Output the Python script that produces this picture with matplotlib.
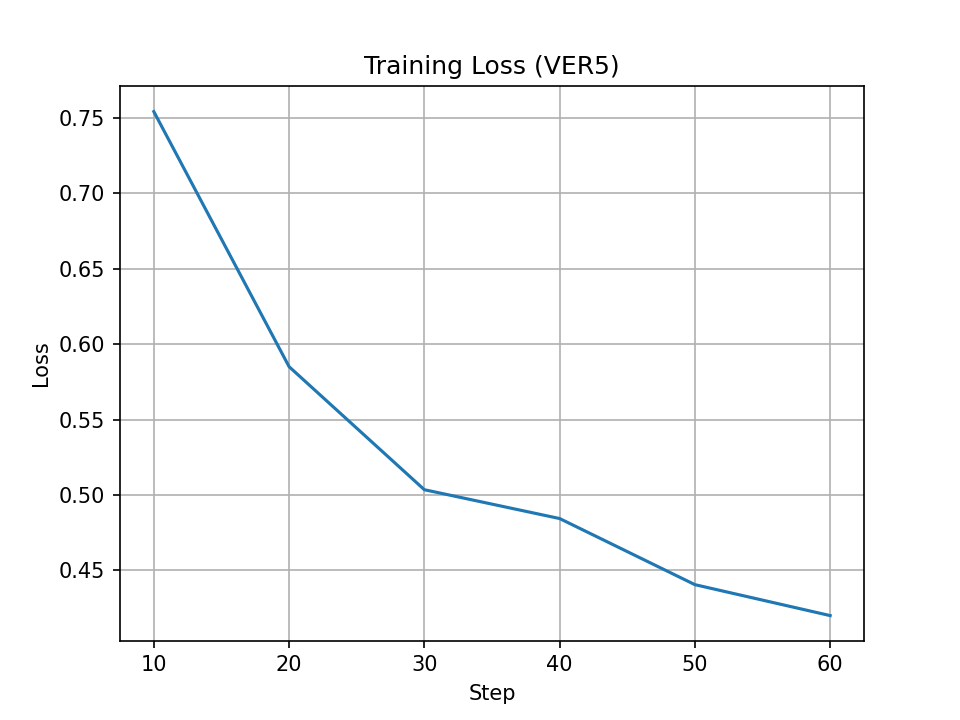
import matplotlib
matplotlib.use("Agg")
import matplotlib.pyplot as plt

steps = [10, 20, 30, 40, 50, 60]
losses = [0.754, 0.585, 0.5035, 0.4844, 0.4406, 0.4201]

plt.figure(figsize=(6.4, 4.8), dpi=150)
plt.plot(steps, losses)
plt.title("Training Loss (VER5)")
plt.xlabel("Step")
plt.ylabel("Loss")
plt.grid(True)
plt.savefig("out.png", dpi=150)
